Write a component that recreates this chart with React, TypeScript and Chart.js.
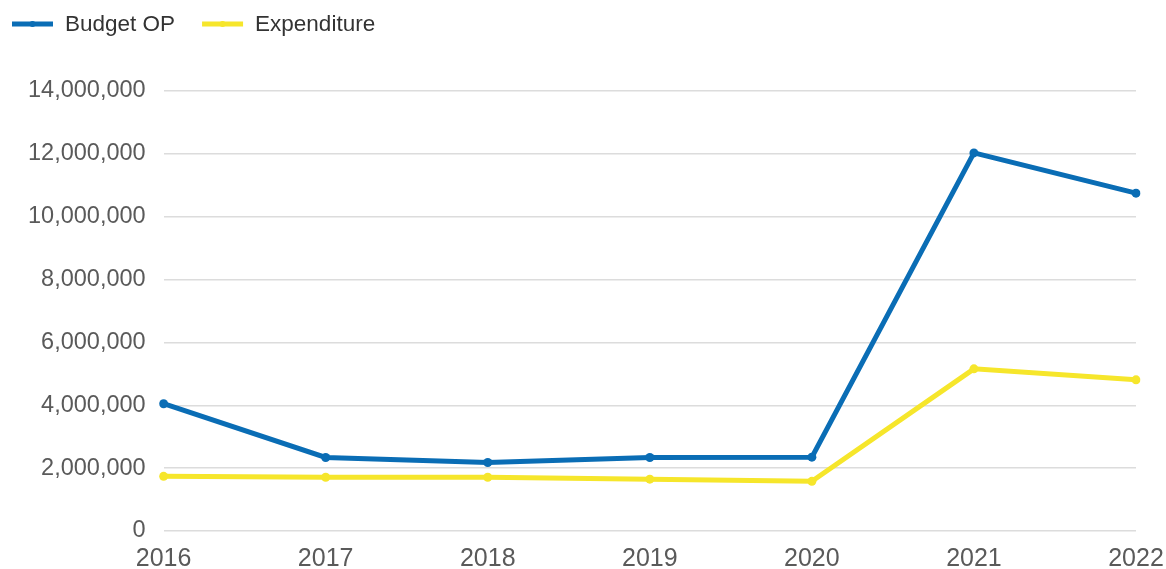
import React, { useEffect, useRef } from "react";
import { Chart, registerables } from "chart.js";

Chart.register(...registerables);

const years = ["2016", "2017", "2018", "2019", "2020", "2021", "2022"];
const budgetOP = [4050000, 2340000, 2180000, 2340000, 2350000, 12030000, 10750000];
const expenditure = [1740000, 1710000, 1710000, 1650000, 1580000, 5160000, 4810000];
const seriesNames = ["Budget OP", "Expenditure"];
const seriesColors = ["#0a6db5", "#f6e62b"];

const legendPlugin = {
  id: "customLegend",
  afterDraw(chart: any) {
    const ctx = chart.ctx;
    ctx.save();
    ctx.font = "22.5px 'Liberation Sans', Arial, sans-serif";
    ctx.textBaseline = "middle";
    let x = 12;
    const y = 24;
    chart.data.datasets.forEach((ds: any) => {
      ctx.strokeStyle = ds.borderColor;
      ctx.lineWidth = 5;
      ctx.beginPath();
      ctx.moveTo(x, y);
      ctx.lineTo(x + 41, y);
      ctx.stroke();
      ctx.fillStyle = ds.borderColor;
      ctx.beginPath();
      ctx.arc(x + 20.5, y, 3, 0, Math.PI * 2);
      ctx.fill();
      ctx.fillStyle = "#333333";
      ctx.fillText(ds.label, x + 53, y + 1);
      x += 53 + ctx.measureText(ds.label).width + 27;
    });
    ctx.restore();
  },
};

export default function App() {
  const ref = useRef<HTMLCanvasElement | null>(null);
  useEffect(() => {
    if (!ref.current) return;
    const chart = new Chart(ref.current, {
      type: "line",
      data: {
        labels: years,
        datasets: [
          {
            label: seriesNames[0],
            data: budgetOP,
            borderColor: seriesColors[0],
            backgroundColor: seriesColors[0],
            borderWidth: 5,
            pointRadius: 4.5,
            pointBorderWidth: 0,
            tension: 0,
          },
          {
            label: seriesNames[1],
            data: expenditure,
            borderColor: seriesColors[1],
            backgroundColor: seriesColors[1],
            borderWidth: 5,
            pointRadius: 4.5,
            pointBorderWidth: 0,
            tension: 0,
          },
        ],
      },
      options: {
        animation: false,
        responsive: false,
        maintainAspectRatio: false,
        layout: { padding: { top: 91, left: 10, right: 30, bottom: -19 } },
        plugins: {
          legend: { display: false },
          tooltip: { enabled: false },
        },
        scales: {
          x: {
            offset: false,
            grid: { display: false, drawTicks: false },
            border: { display: false },
            afterFit: (scale: any) => {
              scale.paddingRight = 0;
              scale.paddingLeft = 0;
            },
            ticks: {
              color: "#5a5a5a",
              padding: 16,
              maxRotation: 0,
              font: { family: "'Liberation Sans', Arial, sans-serif", size: 25, lineHeight: 1 },
            },
          },
          y: {
            min: 0,
            max: 14000000,
            grid: { color: "#dcdcdc", lineWidth: 1.5, drawTicks: false },
            border: { display: false },
            ticks: {
              stepSize: 2000000,
              color: "#5a5a5a",
              padding: 18,
              font: { family: "'Liberation Sans', Arial, sans-serif", size: 23.5 },
              callback: (v: any) => Number(v).toLocaleString("en-US"),
            },
          },
        },
      },
      plugins: [legendPlugin],
    });
    return () => chart.destroy();
  }, []);
  return (
    <div style={{ position: "absolute", left: 0, top: 0, width: 1166, height: 569 }}>
      <canvas ref={ref} width={1166} height={569} />
    </div>
  );
}
